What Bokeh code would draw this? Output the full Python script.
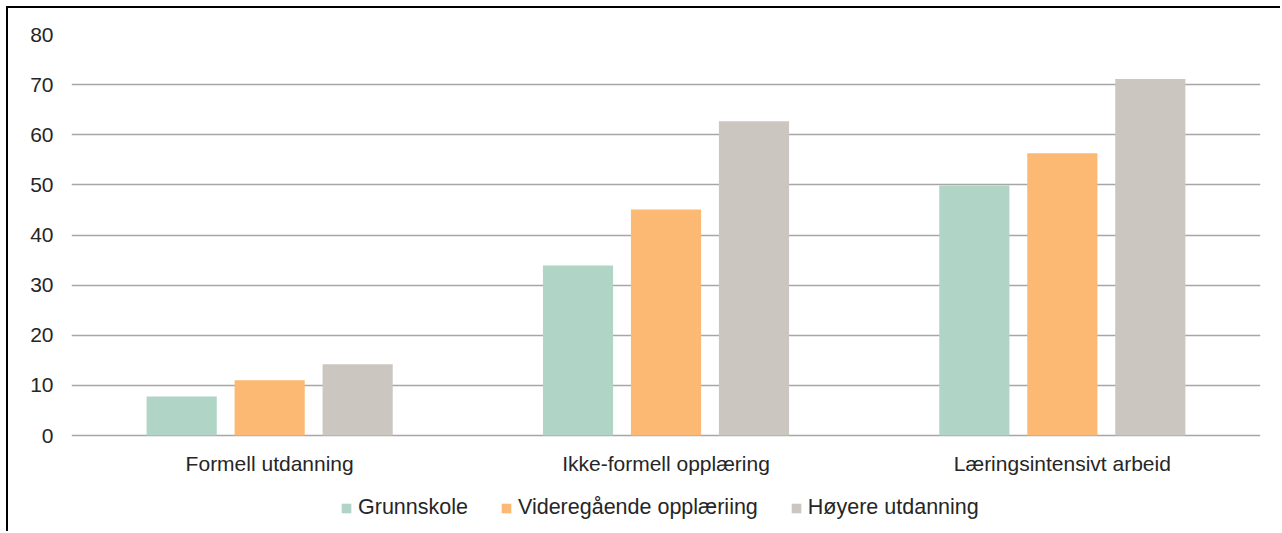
from bokeh.plotting import figure
from bokeh.models import FactorRange, ColumnDataSource, Legend, LegendItem, FixedTicker
from bokeh.core.properties import value
from bokeh.transform import dodge
from bokeh.embed import file_html
from bokeh.resources import INLINE

categories = ["Formell utdanning", "Ikke-formell opplæring", "Læringsintensivt arbeid"]
series_names = ["Grunnskole", "Videregående opplæriing", "Høyere utdanning"]
grunnskole = [7.8, 33.9, 49.9]
videregaende = [11.0, 45.1, 56.3]
hoyere = [14.2, 62.7, 71.1]
y_ticks = [0, 10, 20, 30, 40, 50, 60, 70, 80]
colors = ["#b0d4c5", "#fcb973", "#cbc6c0"]

src = ColumnDataSource(dict(cat=categories, g=grunnskole, v=videregaende, h=hoyere))

W, H = 1274, 525
Y_MIN = -19.55      # extra room below the axis for category labels and legend
LABEL_Y = -5.6
p = figure(x_range=FactorRange(*categories, range_padding=0), y_range=(Y_MIN, 80),
           width=W, height=H, output_backend="svg", toolbar_location=None,
           min_border_left=63, min_border_right=22, min_border_top=26, min_border_bottom=0)
p.styles = {"margin-left": "6px", "margin-top": "6px",
            "border-left": "2px solid black", "border-top": "2px solid black"}

font = "Liberation Sans"
fs = "21px"
renderers = []
for key, off, col in zip(["g", "v", "h"], [-0.222, 0.0, 0.222], colors):
    r = p.vbar(x=dodge("cat", off, range=p.x_range), top=key, bottom=0, width=0.177, source=src,
               fill_color=col, line_color=None)
    renderers.append(r)

p.text(x=categories, y=[LABEL_Y] * len(categories), text=categories,
       text_font=value(font), text_font_size=fs, text_color="#262626",
       text_align="center", text_baseline="middle")

p.outline_line_color = None
p.xgrid.grid_line_color = None
p.ygrid.grid_line_color = "#a6a6a6"
p.ygrid.grid_line_width = 1.5
p.ygrid.ticker = FixedTicker(ticks=y_ticks)
p.yaxis.ticker = FixedTicker(ticks=y_ticks)
p.yaxis.axis_line_color = None
p.yaxis.major_tick_line_color = None
p.yaxis.minor_tick_line_color = None
p.yaxis.major_tick_in = 0
p.yaxis.major_tick_out = 0
p.yaxis.major_label_standoff = 18
p.yaxis.major_label_text_font = font
p.yaxis.major_label_text_font_size = fs
p.yaxis.major_label_text_color = "#262626"
p.xaxis.visible = False

legend = Legend(items=[LegendItem(label=n, renderers=[r]) for n, r in zip(series_names, renderers)],
                orientation="horizontal", location=(269, 13),
                label_text_font=font, label_text_font_size="21.5px", label_text_color="#262626",
                glyph_width=12, glyph_height=12, label_standoff=6, spacing=32,
                border_line_color=None, background_fill_alpha=0, padding=0, margin=0)
p.add_layout(legend)

open("out.html", "w").write(file_html(p, INLINE))
